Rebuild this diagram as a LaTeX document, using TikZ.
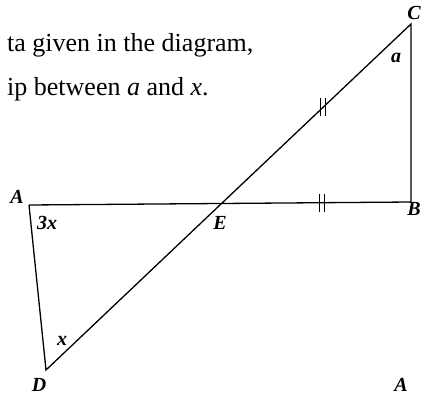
\documentclass[tikz,border=0pt]{standalone}
\usepackage{fontspec}
\setmainfont{Liberation Serif}
\begin{document}
\begin{tikzpicture}[x=1pt,y=-1pt,
  edge/.style={line width=1.3pt, black},
  tick/.style={line width=1.2pt, black},
  vlabel/.style={inner sep=0pt, font=\fontsize{20}{22}\selectfont\bfseries\itshape},
  alabel/.style={inner sep=0pt, font=\fontsize{20}{22}\selectfont\itshape},
  body/.style={inner sep=0pt, anchor=base west, font=\fontsize{26}{30}\selectfont}]
\useasboundingbox (0,0) rectangle (422,396);
% vertices
\coordinate (A) at (29,205);
\coordinate (B) at (411,202);
\coordinate (C) at (411,24);
\coordinate (D) at (46,370);
\coordinate (E) at (221,204);
% text
\node[body] (t1) at (7,52) {ta given in the diagram,};
\node[body] (t2) at (7,95) {ip between \textit{a} and \textit{x}.};
% figure
\draw[edge] (A) -- (B) -- (C) -- (E) -- (D) -- (A);
% ticks
\path (E) -- (C) coordinate[pos=0.537] (m1);
\path (E) -- (B) coordinate[pos=0.53] (m2);
\draw[tick] ([xshift=-2.5,yshift=-9]m1) -- ([xshift=-2.5,yshift=9]m1);
\draw[tick] ([xshift=2.5,yshift=-9]m1) -- ([xshift=2.5,yshift=9]m1);
\draw[tick] ([xshift=-2.5,yshift=-9]m2) -- ([xshift=-2.5,yshift=9]m2);
\draw[tick] ([xshift=2.5,yshift=-9]m2) -- ([xshift=2.5,yshift=9]m2);
% labels
\node[vlabel] (lA) at (17,197) {A};
\node[vlabel] (lB) at (414,209) {B};
\node[vlabel] (lC) at (414,13) {C};
\node[vlabel] (lD) at (39,385) {D};
\node[vlabel] (lE) at (220,223) {E};
\node[vlabel] (l3x) at (47,223) {3\textit{x}};
\node[alabel] (lx) at (62,341) {\textbf{\textit{x}}};
\node[alabel] (la) at (396,58) {\textbf{\textit{a}}};
\node[vlabel] (lA2) at (401,385) {A};
\end{tikzpicture}
\end{document}
